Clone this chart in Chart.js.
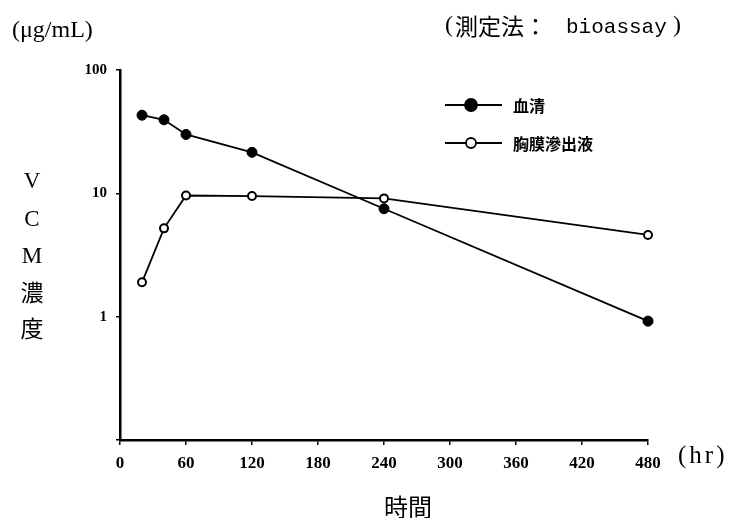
<!DOCTYPE html>
<html>
<head>
<meta charset="utf-8">
<script src="https://cdn.jsdelivr.net/npm/chart.js@4.4.1/dist/chart.umd.min.js"></script>
<style>
  html, body { margin: 0; padding: 0; background: #fff; }
  #wrap { width: 733px; height: 518px; }
</style>
</head>
<body>
<div id="wrap"><canvas id="myChart" width="733" height="518"></canvas></div>
<script>
// sampling times (hr) and concentrations (μg/mL)
const times    = [20, 40, 60, 120, 240, 480];
const serum    = [43, 39.5, 30, 21.5, 7.5, 0.92];   // 血清
const pleural  = [1.9, 5.2, 9.6, 9.5, 9.1, 4.6];    // 胸膜滲出液
const seriesNames = ['血清', '胸膜滲出液'];
const yTicks = [0.1, 1, 10, 100];
const xTicks = [0, 60, 120, 180, 240, 300, 360, 420, 480];

const SERIF = '"Liberation Serif", "Noto Sans CJK JP"';
const CJK = '"Noto Sans CJK JP", "Liberation Serif"';

function pts(ys) {
  return times.map((t, i) => ({x: t, y: ys[i]}));
}

// texts + legend drawn around the plot
const decor = {
  id: 'decor',
  afterDraw(chart) {
    const c = chart.ctx;
    c.save();
    c.fillStyle = '#000';
    c.strokeStyle = '#000';
    c.textBaseline = 'middle';

    c.textAlign = 'left';
    c.font = '24px ' + SERIF;
    c.fillText('(μg/mL)', 12, 31);

    // (測定法：bioassay)
    c.fillText('(', 445, 26);
    c.font = '23px ' + CJK;
    c.fillText('測定法：', 455, 26);
    c.font = '21px "Liberation Mono", monospace';
    c.fillText('bioassay', 566, 27);
    c.font = '24px ' + SERIF;
    c.fillText(')', 673, 26);

    // vertical y title
    c.textAlign = 'center';
    const vt = ['V', 'C', 'M', '濃', '度'];
    const vy = [182, 220, 257, 292, 328];
    vt.forEach((ch, i) => {
      c.font = (i < 3 ? '23px ' + SERIF : '23px ' + CJK);
      c.fillText(ch, 32, vy[i]);
    });

    // x title + unit
    c.font = '24px ' + CJK;
    c.fillText('時間', 408, 507);
    c.textAlign = 'left';
    c.font = '25px ' + SERIF;
    c.letterSpacing = '3px';
    c.fillText('(hr)', 678, 456);
    c.letterSpacing = '0px';

    // legend
    const ds = chart.data.datasets;
    const ly = [105, 143];
    ds.forEach((d, i) => {
      c.lineWidth = 1.8;
      c.beginPath();
      c.moveTo(445, ly[i]);
      c.lineTo(502, ly[i]);
      c.stroke();
      c.beginPath();
      c.arc(471, ly[i], i === 0 ? 6 : 5, 0, Math.PI * 2);
      c.fillStyle = d.pointBackgroundColor;
      c.fill();
      c.lineWidth = 1.8;
      c.stroke();
      c.fillStyle = '#000';
      c.font = 'bold 16px ' + CJK;
      c.fillText(d.label, 513, ly[i] + 1);
    });
    c.restore();
  }
};

new Chart(document.getElementById('myChart'), {
  type: 'line',
  data: {
    datasets: [{
      label: seriesNames[0],
      data: pts(serum),
      borderColor: '#000',
      borderWidth: 1.8,
      pointRadius: 5,
      pointBackgroundColor: '#000',
      pointBorderColor: '#000',
      pointBorderWidth: 1,
      tension: 0
    }, {
      label: seriesNames[1],
      data: pts(pleural),
      borderColor: '#000',
      borderWidth: 1.8,
      pointRadius: 4,
      pointBackgroundColor: '#fff',
      pointBorderColor: '#000',
      pointBorderWidth: 2,
      tension: 0
    }]
  },
  options: {
    responsive: false,
    animation: false,
    clip: false,
    layout: { padding: { left: 0, top: 70, right: 85, bottom: 0 } },
    plugins: { legend: { display: false }, tooltip: { enabled: false } },
    scales: {
      x: {
        type: 'linear',
        min: 0,
        max: 480,
        afterBuildTicks: s => { s.ticks = xTicks.map(v => ({value: v})); },
        afterFit: s => { s.height = 78; },
        border: { display: true, color: '#000', width: 2.5 },
        grid: { display: true, drawOnChartArea: false, drawTicks: true, tickLength: 5, color: '#000', lineWidth: 1.5 },
        ticks: {
          color: '#000',
          padding: 8,
          maxRotation: 0,
          autoSkip: false,
          font: { family: '"Liberation Serif"', size: 17, weight: 'bold' }
        }
      },
      y: {
        type: 'logarithmic',
        min: 0.1,
        max: 100,
        afterBuildTicks: s => { s.ticks = yTicks.map(v => ({value: v})); },
        afterFit: s => { s.width = 120; },
        border: { display: true, color: '#000', width: 2.5 },
        grid: { display: true, drawOnChartArea: false, drawTicks: true, tickLength: 4, color: '#000', lineWidth: 1.5 },
        ticks: {
          color: '#000',
          padding: 9,
          autoSkip: false,
          font: { family: '"Liberation Serif"', size: 15, weight: 'bold' },
          callback: v => (v === 0.1 ? '' : String(v))
        }
      }
    }
  },
  plugins: [decor]
});
</script>
</body>
</html>
